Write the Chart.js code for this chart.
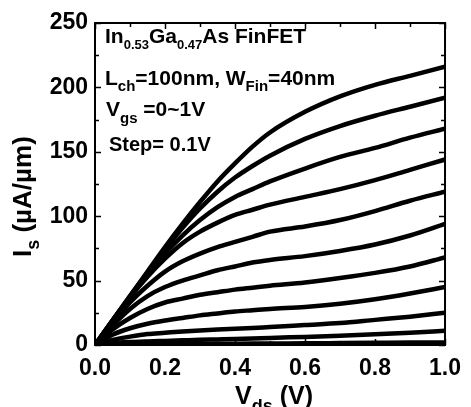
<!DOCTYPE html>
<html>
<head>
<meta charset="utf-8">
<script src="https://cdn.jsdelivr.net/npm/chart.js@4.4.0/dist/chart.umd.min.js"></script>
<style>
  html, body { margin: 0; padding: 0; background: #fff; }
  #wrap { width: 471px; height: 407px; }
</style>
</head>
<body>
<div id="wrap"><canvas id="chart"></canvas></div>
<script>
'use strict';

// Vds sample points (V)
var vds = [0, 0.05, 0.1, 0.15, 0.2, 0.25, 0.3, 0.35, 0.4, 0.45, 0.5, 0.6, 0.7, 0.8, 0.9, 1.0];

// Is (uA/um), one array per Vgs step
var is_vgs10 = [0, 19, 38, 57, 76, 94, 111, 127, 141, 154, 165, 181, 193, 202, 209, 216];
var is_vgs09 = [0, 19, 38, 56, 74, 91, 106, 119, 130, 139, 147, 160, 170, 178, 185, 192];
var is_vgs08 = [0, 19, 37, 55, 71, 85, 97, 107, 115, 121, 127, 137, 146, 153, 161, 168];
var is_vgs07 = [0, 19, 37, 53, 67, 79, 88, 95, 101, 105, 109, 115, 121, 128, 136, 144];
var is_vgs06 = [0, 17, 33, 46, 57, 65, 71, 76, 80, 84, 88, 92, 97, 104, 112, 119];
var is_vgs05 = [0, 15, 28, 38, 45, 50, 54, 58, 61, 64, 66, 69, 73, 78, 85, 94];
var is_vgs04 = [0, 12, 21, 28, 33, 36, 39, 41, 43, 44.5, 46, 48.5, 52, 56, 61, 68];
var is_vgs03 = [0, 8, 13, 16.5, 19, 21, 23, 24.5, 26, 27, 28, 29.5, 32, 35.5, 40, 45];
var is_vgs02 = [0, 4, 6.5, 8.5, 9.5, 10.5, 11.3, 12, 12.6, 13.2, 14, 15.5, 17, 19.5, 22, 25];
var is_vgs01 = [0, 1.5, 2.3, 2.8, 3.2, 3.6, 4, 4.3, 4.6, 5, 5.5, 6.3, 7.2, 8.3, 9.5, 11];
var is_vgs00 = [0, 0.2, 0.4, 0.5, 0.6, 0.7, 0.8, 0.9, 1, 1.1, 1.2, 1.3, 1.5, 1.7, 1.9, 2];

var vgs_labels = ['1.0', '0.9', '0.8', '0.7', '0.6', '0.5', '0.4', '0.3', '0.2', '0.1', '0.0'];
var all_curves = [is_vgs10, is_vgs09, is_vgs08, is_vgs07, is_vgs06, is_vgs05, is_vgs04, is_vgs03, is_vgs02, is_vgs01, is_vgs00];

var x_range = [0, 1];
var y_range = [0, 250];
var x_step = 0.2;
var y_step = 50;

var FONT = '"Liberation Sans", Arial, sans-serif';

// draw text with subscripts: parts = [[text, is_sub], ...]
function rich_width(ctx, parts, size, sub_size) {
    var w = 0;
    parts.forEach(function(p) {
        ctx.font = 'bold ' + (p[1] ? sub_size : size) + 'px ' + FONT;
        w += ctx.measureText(p[0]).width;
    });
    return w;
}

function draw_rich(ctx, x, y, parts, size, sub_size, sub_drop) {
    ctx.textBaseline = 'alphabetic';
    ctx.textAlign = 'left';
    parts.forEach(function(p) {
        ctx.font = 'bold ' + (p[1] ? sub_size : size) + 'px ' + FONT;
        ctx.fillText(p[0], x, p[1] ? y + sub_drop : y);
        x += ctx.measureText(p[0]).width;
    });
}

var frame_plugin = {
    id: 'frame',
    afterDatasetsDraw: function(chart) {
        var ctx = chart.ctx;
        var a = chart.chartArea;
        var xs = chart.scales.x;
        var ys = chart.scales.y;
        ctx.save();
        ctx.strokeStyle = '#000';
        ctx.lineWidth = 2;
        ctx.strokeRect(a.left, a.top, a.right - a.left, a.bottom - a.top);

        // inward ticks on all four sides
        ctx.lineWidth = 1.5;
        ctx.beginPath();
        var i, px, len;
        for (i = 0; i <= 10; i++) {
            px = Math.round(xs.getPixelForValue(i / 10)) + 0.5;
            len = (i % 2 === 0) ? 6 : 4;
            ctx.moveTo(px, a.bottom); ctx.lineTo(px, a.bottom - len);
            ctx.moveTo(px, a.top); ctx.lineTo(px, a.top + len);
        }
        for (i = 0; i <= 10; i++) {
            px = Math.round(ys.getPixelForValue(i * 25)) + 0.5;
            len = (i % 2 === 0) ? 6 : 4;
            ctx.moveTo(a.left, px); ctx.lineTo(a.left + len, px);
            ctx.moveTo(a.right, px); ctx.lineTo(a.right - len, px);
        }
        ctx.stroke();
        ctx.restore();
    },
    afterDraw: function(chart) {
        var ctx = chart.ctx;
        ctx.save();
        ctx.fillStyle = '#000';

        // annotation block
        draw_rich(ctx, 105, 43, [['In', 0], ['0.53', 1], ['Ga', 0], ['0.47', 1], ['As FinFET', 0]], 21, 13, 6);
        draw_rich(ctx, 105, 85, [['L', 0], ['ch', 1], ['=100nm, W', 0], ['Fin', 1], ['=40nm', 0]], 21, 15, 6);
        draw_rich(ctx, 106, 116, [['V', 0], ['gs', 1], [' =0~1V', 0]], 21, 15, 7);
        draw_rich(ctx, 109, 151, [['Step= 0.1V', 0]], 20, 15, 6);

        // x title
        var xparts = [['V', 0], ['ds', 1], [' (V)', 0]];
        var xw = rich_width(ctx, xparts, 25, 18);
        draw_rich(ctx, 274 - xw / 2, 404, xparts, 25, 18, 8);

        // y title, rotated
        var yparts = [['I', 0], ['s', 1], [' (\u00b5A/\u00b5m)', 0]];
        ctx.translate(31, 257);
        ctx.rotate(-Math.PI / 2);
        draw_rich(ctx, 0, 0, yparts, 26, 18, 8);
        ctx.restore();
    }
};

var datasets = all_curves.map(function(curve, k) {
    return {
        label: 'Vgs=' + vgs_labels[k] + 'V',
        data: vds.map(function(v, j) { return { x: v, y: curve[j] }; }),
        borderColor: '#000',
        borderWidth: 4.5,
        pointRadius: 0,
        cubicInterpolationMode: 'monotone',
        fill: false
    };
});

var chart = new Chart(document.getElementById('chart'), {
    type: 'line',
    data: { datasets: datasets },
    options: {
        responsive: true,
        maintainAspectRatio: false,
        animation: false,
        layout: { padding: { top: 23, right: 18, left: 0, bottom: 0 } },
        plugins: {
            legend: { display: false },
            tooltip: { enabled: false }
        },
        scales: {
            x: {
                type: 'linear',
                min: x_range[0],
                max: x_range[1],
                grid: { display: false, drawTicks: false },
                border: { display: false },
                ticks: {
                    stepSize: x_step,
                    padding: 10,
                    color: '#000',
                    font: { family: FONT, size: 23, weight: 'bold' },
                    callback: function(v) { return v.toFixed(1); }
                },
                afterFit: function(scale) { scale.height = 62; }
            },
            y: {
                type: 'linear',
                min: y_range[0],
                max: y_range[1],
                grid: { display: false, drawTicks: false },
                border: { display: false },
                ticks: {
                    stepSize: y_step,
                    padding: 7,
                    color: '#000',
                    font: { family: FONT, size: 23, weight: 'bold' }
                },
                afterFit: function(scale) { scale.width = 95; }
            }
        }
    },
    plugins: [frame_plugin]
});
</script>
</body>
</html>
